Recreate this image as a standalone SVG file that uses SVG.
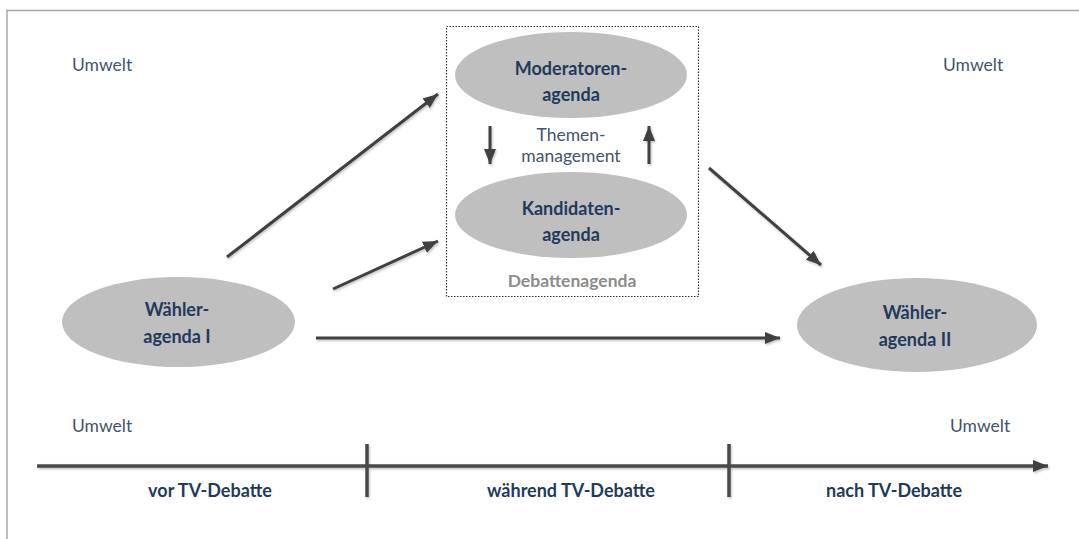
<svg xmlns="http://www.w3.org/2000/svg" width="1079" height="539" viewBox="0 0 1079 539">
  <defs>
    <marker id="head" markerUnits="userSpaceOnUse" markerWidth="17" markerHeight="14" refX="15" refY="7" orient="auto">
      <path d="M0,1 L15,7 L0,13 Z" fill="#404040"/>
    </marker>
    <filter id="shadow" x="-10%" y="-10%" width="120%" height="120%">
      <feDropShadow dx="1" dy="1.5" stdDeviation="1" flood-color="#000" flood-opacity="0.25"/>
    </filter>
    <style>
      .ell { fill: #bfbfbf; }
      .bold { font-family: Lato, "Liberation Sans", sans-serif; font-weight: bold; font-size: 18px; fill: #1f3a5c; text-anchor: middle; }
      .reg { font-family: Lato, "Liberation Sans", sans-serif; font-size: 17.5px; fill: #44546a; }
      .conn { stroke: #404040; stroke-width: 3; fill: none; }
      .axis { stroke: #4a4a4a; stroke-width: 3.5; fill: none; }
    </style>
  </defs>

  <rect width="1079" height="539" fill="#ffffff"/>

  <!-- page frame -->
  <g id="frame" stroke="#a8a8a8" stroke-width="1.5" fill="none">
    <line x1="6" y1="10.5" x2="1079" y2="10.5"/>
    <line x1="7" y1="10" x2="7" y2="539"/>
  </g>

  <!-- environment labels -->
  <g id="umwelt">
    <text class="reg" x="72" y="71">Umwelt</text>
    <text class="reg" x="943" y="71">Umwelt</text>
    <text class="reg" x="72" y="432">Umwelt</text>
    <text class="reg" x="950" y="432">Umwelt</text>
  </g>

  <!-- debate agenda box -->
  <g id="debattenagenda">
    <rect x="446.5" y="26.5" width="252" height="270" fill="none" stroke="#333" stroke-width="1.2" stroke-dasharray="1.5 1.5"/>
    <text x="572" y="287" font-family="Lato, 'Liberation Sans', sans-serif" font-weight="bold" font-size="17.5" fill="#8c8c8c" text-anchor="middle">Debattenagenda</text>
  </g>

  <g id="moderatorenagenda">
    <ellipse class="ell" cx="571" cy="75" rx="116" ry="43"/>
    <text class="bold" x="571" y="75">Moderatoren-</text>
    <text class="bold" x="571" y="101">agenda</text>
  </g>

  <g id="kandidatenagenda">
    <ellipse class="ell" cx="571" cy="215" rx="116" ry="43"/>
    <text class="bold" x="571" y="215">Kandidaten-</text>
    <text class="bold" x="571" y="241">agenda</text>
  </g>

  <g id="themenmanagement">
    <text class="reg" x="571" y="141" text-anchor="middle">Themen-</text>
    <text class="reg" x="571" y="162" text-anchor="middle">management</text>
  </g>

  <g id="waehleragenda1">
    <ellipse class="ell" cx="178.5" cy="322" rx="116.5" ry="45"/>
    <text class="bold" x="177" y="316">Wähler-</text>
    <text class="bold" x="177" y="343">agenda I</text>
  </g>

  <g id="waehleragenda2">
    <ellipse class="ell" cx="917" cy="325" rx="120" ry="47"/>
    <text class="bold" x="915" y="319">Wähler-</text>
    <text class="bold" x="915" y="346">agenda II</text>
  </g>

  <!-- influence connectors -->
  <g id="connectors" filter="url(#shadow)">
    <line class="conn" x1="227" y1="257" x2="438" y2="94" marker-end="url(#head)"/>
    <line class="conn" x1="333" y1="289" x2="438" y2="241" marker-end="url(#head)"/>
    <line class="conn" x1="316" y1="338" x2="780" y2="338" marker-end="url(#head)"/>
    <line class="conn" x1="709" y1="168" x2="821" y2="265" marker-end="url(#head)"/>
    <line class="conn" x1="490" y1="126" x2="490" y2="164" marker-end="url(#head)"/>
    <line class="conn" x1="649" y1="164" x2="649" y2="126" marker-end="url(#head)"/>
  </g>

  <!-- time axis -->
  <g id="zeitachse" filter="url(#shadow)">
    <line class="axis" x1="37" y1="466" x2="1048" y2="466" marker-end="url(#head)"/>
    <line class="axis" x1="367" y1="444" x2="367" y2="497"/>
    <line class="axis" x1="729" y1="444" x2="729" y2="497"/>
  </g>

  <g id="phasen">
    <text class="bold" x="210" y="497">vor TV-Debatte</text>
    <text class="bold" x="571" y="497">während TV-Debatte</text>
    <text class="bold" x="894" y="497">nach TV-Debatte</text>
  </g>
</svg>
